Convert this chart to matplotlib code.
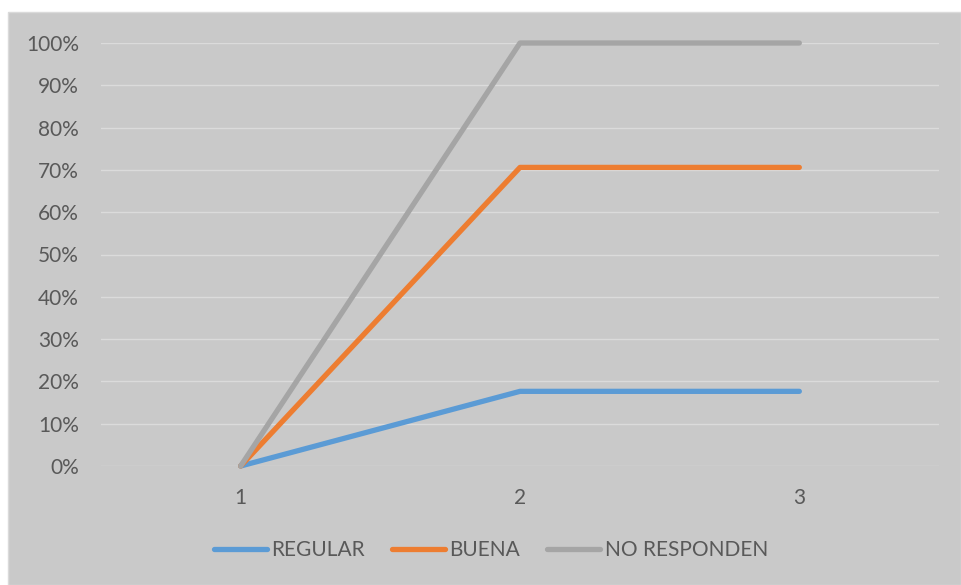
import matplotlib
matplotlib.use("Agg")
import matplotlib.pyplot as plt
from matplotlib.patches import Rectangle
from matplotlib.ticker import PercentFormatter

categories = [1, 2, 3]
regular = [0.0, 0.1765, 0.1765]
buena = [0.0, 0.7059, 0.7059]
no_responden = [0.0, 1.0, 1.0]
series_names = ["REGULAR", "BUENA", "NO RESPONDEN"]
series_colors = ["#5B9BD5", "#ED7D31", "#A5A5A5"]

W, H = 961, 585
fig = plt.figure(figsize=(W / 100, H / 100), dpi=100, facecolor="white")
bg = "#C9C9C9"
text_col = "#595959"
plt.rcParams["font.family"] = ["Lato", "DejaVu Sans"]

# grey chart area with a thin light edge
fig.patches.append(Rectangle((8 / W, 0), 1 - 8 / W, 1 - 12 / H, transform=fig.transFigure,
                             facecolor=bg, edgecolor="#DADADA", linewidth=1.0, zorder=-10))

ax = fig.add_axes([101 / W, 1 - 466 / H, (939 - 101) / W, (466 - 43) / H])
ax.patch.set_alpha(0)

for vals, name, col in zip([regular, buena, no_responden], series_names, series_colors):
    ax.plot(categories, vals, color=col, lw=3.8, label=name,
            solid_capstyle="round", solid_joinstyle="round", clip_on=False, zorder=3)

ax.set_xlim(0.5, 3.5)
ax.set_ylim(0, 1)
ax.set_yticks([i / 10 for i in range(11)])
ax.yaxis.set_major_formatter(PercentFormatter(1.0, decimals=0))
ax.set_xticks(categories)
ax.grid(axis="y", color="#DBDBDB", lw=1.0)
ax.set_axisbelow(True)
for s in ax.spines.values():
    s.set_visible(False)
ax.tick_params(axis="both", length=0, labelsize=15, labelcolor=text_col)
ax.tick_params(axis="y", pad=16)
ax.tick_params(axis="x", pad=16)

fig.legend(loc="center", bbox_to_anchor=(491 / W, 1 - 550 / H), ncol=3, frameon=False,
           fontsize=15, labelcolor=text_col, handlelength=2.55, handletextpad=0.2,
           columnspacing=1.3)

fig.savefig("out.png", dpi=100, facecolor="white")
